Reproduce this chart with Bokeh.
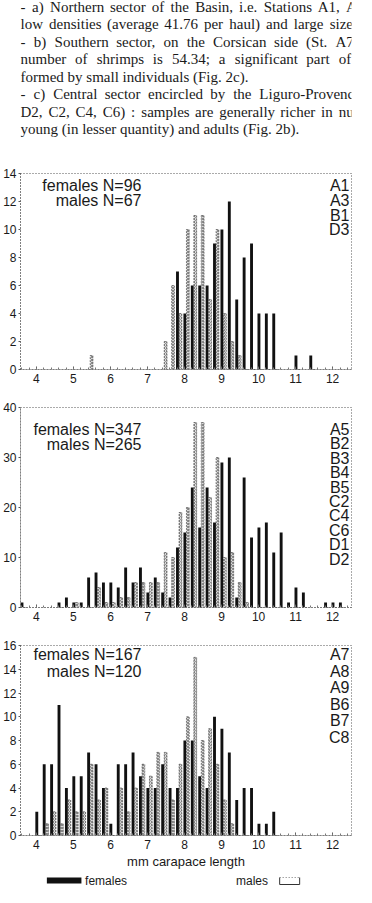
from bokeh.plotting import figure
from bokeh.models import Range1d, Label, SingleIntervalTicker
from bokeh.layouts import column
from bokeh.embed import file_html
from bokeh.resources import INLINE
from bokeh.core.properties import value

# ---------------- data ----------------
text_lines = [
    "- a) Northern sector of the Basin, i.e. Stations A1, A",
    "low densities (average 41.76 per haul) and large size",
    "- b) Southern sector, on the Corsican side (St. A7",
    "number of shrimps is 54.34; a significant part of",
    "formed by small individuals (Fig. 2c).",
    "- c) Central sector encircled by the Liguro-Provenc",
    "D2, C2, C4, C6) : samples are generally richer in nu",
    "young (in lesser quantity) and adults (Fig. 2b).",
]
justified = [True, True, True, True, False, True, True, False]

# panel a (stations A1 A3 B1 D3)
bins_a = [5.4, 7.4, 7.6, 7.8, 8.0, 8.2, 8.4, 8.6, 8.8, 9.0, 9.2, 9.4, 9.6, 9.8, 10.0, 10.2, 10.4, 11.0, 11.4]
fem_a = [0, 0, 0, 7, 4, 6, 6, 6, 9, 10, 12, 5, 8, 9, 4, 4, 4, 1, 1]
male_a = [1, 2, 6, 4, 10, 11, 11, 5, 10, 4, 2, 1, 0, 0, 0, 0, 0, 0, 0]
stations_a = ["A1", "A3", "B1", "D3"]

# panel b (stations A5 ... D2)
bins_b = [3.6, 4.6, 4.8, 5.0, 5.2, 5.4, 5.6, 5.8, 6.0, 6.2, 6.4, 6.6, 6.8, 7.0, 7.2, 7.4, 7.6, 7.8,
          8.0, 8.2, 8.4, 8.6, 8.8, 9.0, 9.2, 9.4, 9.6, 9.8, 10.0, 10.2, 10.4, 10.6, 10.8, 11.0, 11.2,
          11.8, 12.0, 12.2]
fem_b = [1, 1, 2, 1, 1, 6, 7, 5, 5, 4, 8, 5, 8, 3, 6, 3, 2, 12,
         15, 24, 16, 24, 17, 29, 30, 2, 26, 14, 16, 17, 11, 15, 1, 4, 3,
         1, 1, 1]
male_b = [0, 0, 0, 1, 0, 0, 4, 1, 1, 2, 2, 5, 5, 5, 5, 11, 10, 19,
          20, 37, 37, 22, 30, 10, 11, 5, 1, 0, 0, 0, 0, 0, 0, 0, 0,
          0, 0, 0]
stations_b = ["A5", "B2", "B3", "B4", "B5", "C2", "C4", "C6", "D1", "D2"]

# panel c (stations A7 A8 A9 B6 B7 C8)
bins_c = [4.0, 4.2, 4.4, 4.6, 4.8, 5.0, 5.2, 5.4, 5.6, 5.8, 6.0, 6.2, 6.4, 6.6, 6.8, 7.0, 7.2,
          7.4, 7.6, 7.8, 8.0, 8.2, 8.4, 8.6, 8.8, 9.0, 9.2, 9.4, 9.6, 9.8, 10.0, 10.2, 10.4]
fem_c = [2, 6, 6, 11, 4, 5, 5, 7, 6, 4, 1, 6, 6, 7, 5, 4, 4,
         6, 4, 4, 8, 8, 5, 4, 10, 9, 7, 3, 4, 4, 1, 1, 2]
male_c = [0, 1, 2, 1, 3, 2, 2, 6, 3, 4, 0, 4, 2, 4, 6, 5, 7,
          7, 3, 6, 10, 15, 8, 9, 6, 3, 1, 0, 0, 0, 0, 0, 0]
stations_c = ["A7", "A8", "A9", "B6", "B7", "C8"]

X0, X1 = 3.57, 12.51
W = 364
SANS = "Liberation Sans"
SERIF = "Liberation Serif"
INK = "#1a1a1a"

# Times / Liberation Serif advance widths (1/1000 em), used only to spread justified lines
TW = {" ": 250, "(": 333, ")": 333, ",": 250, "-": 333, ".": 250, ":": 278, ";": 278,
      "A": 722, "B": 667, "C": 667, "D": 722, "F": 556, "L": 611, "N": 722, "P": 556, "S": 556,
      "a": 444, "b": 500, "c": 444, "d": 500, "e": 444, "f": 333, "g": 500, "h": 500, "i": 278,
      "j": 278, "k": 500, "l": 278, "m": 778, "n": 500, "o": 500, "p": 500, "q": 500, "r": 333,
      "s": 389, "t": 278, "u": 500, "v": 500, "w": 722, "x": 500, "y": 500, "z": 444}
FS = 15.0
KW = 1.08  # rendered width factor


def tw(s):
    return KW * sum(TW.get(ch, 500) for ch in s) * FS / 1000.0


# ---------------- text block ----------------
tp = figure(width=W, height=142, x_range=Range1d(0, W), y_range=Range1d(142, 0),
            min_border=0, toolbar_location=None, output_backend="svg",
            x_axis_type=None, y_axis_type=None, outline_line_color=None)
tp.grid.visible = False
wx, wy, wt = [], [], []
LAST_LEFT = 358.0  # left edge of the clipped last glyph of a justified line
for i, (ln, just) in enumerate(zip(text_lines, justified)):
    y = 6 + 17.5 * i
    if not just:
        wx.append(0.0)
        wy.append(y)
        wt.append(ln)
        continue
    words = ln.split(" ")
    extra = max(0.0, (LAST_LEFT - tw(ln[:-1])) / (len(words) - 1))
    x = 0.0
    for w in words:
        wx.append(x)
        wy.append(y)
        wt.append(w)
        x += tw(w + " ") + extra
tp.text(x=wx, y=wy, text=wt, text_font=value(SERIF), text_font_size=f"{FS}px",
        text_color=INK, text_baseline="middle")


def panel(bins, fem, male, ymax, ystep, height, top, bottom, fem_txt, male_txt,
          stations, letter, txt_y, txt_gap, st_y, st_gap, xlabel=None):
    p = figure(width=W, height=height, x_range=Range1d(X0, X1), y_range=Range1d(0, ymax),
               min_border_left=18, min_border_right=13, min_border_top=top, min_border_bottom=bottom,
               toolbar_location=None, output_backend="svg")
    p.grid.visible = False
    p.outline_line_color = "#555"
    p.outline_line_dash = "1 2"
    p.outline_line_width = 1

    p.vbar(x=[b + 0.01 for b in bins], top=fem, width=0.078, fill_color="#111", line_color=None)
    p.vbar(x=[b + 0.09 for b in bins], top=male, width=0.075, fill_color="#dadada",
           line_color="#444", line_width=0.6, line_dash="2 1", hatch_pattern="diagonal_cross",
           hatch_color="#555", hatch_scale=3, hatch_weight=0.6)

    p.xaxis.ticker = SingleIntervalTicker(interval=1, num_minor_ticks=5)
    p.yaxis.ticker = SingleIntervalTicker(interval=ystep, num_minor_ticks=0)
    for ax in (p.xaxis, p.yaxis):
        ax.axis_line_color = "#555"
        ax.axis_line_dash = "1 2"
        ax.major_tick_line_color = "#555"
        ax.minor_tick_line_color = "#777"
        ax.major_label_text_font = SANS
        ax.major_label_text_font_size = "12px"
        ax.major_label_text_color = INK
    p.xaxis.major_tick_in = 3
    p.xaxis.major_tick_out = 0
    p.xaxis.minor_tick_in = 2
    p.xaxis.minor_tick_out = 0
    p.xaxis.major_label_standoff = 4
    p.yaxis.major_tick_in = 0
    p.yaxis.major_tick_out = 2
    p.yaxis.minor_tick_line_color = None
    p.yaxis.major_label_standoff = 2
    if xlabel:
        p.xaxis.axis_label = xlabel
        p.xaxis.axis_label_text_font = SANS
        p.xaxis.axis_label_text_font_style = "normal"
        p.xaxis.axis_label_text_font_size = "13px"
        p.xaxis.axis_label_text_color = INK
        p.xaxis.axis_label_standoff = 2

    p.add_layout(Label(x=X0, y=ymax, x_offset=6, y_offset=12, text="N", text_font=SANS,
                       text_font_size="11px", text_color=INK, text_align="center",
                       text_baseline="middle"))
    p.add_layout(Label(x=X0, y=ymax, x_offset=121, y_offset=-txt_y, text=fem_txt, text_font=SANS,
                       text_font_size="16px", text_color=INK, text_align="right",
                       text_baseline="middle"))
    p.add_layout(Label(x=X0, y=ymax, x_offset=121, y_offset=-txt_y - txt_gap, text=male_txt,
                       text_font=SANS, text_font_size="16px", text_color=INK, text_align="right",
                       text_baseline="middle"))
    for i, s in enumerate(stations):
        p.add_layout(Label(x=X1, y=ymax, x_offset=-2, y_offset=-st_y - st_gap * i, text=s,
                           text_font=SANS, text_font_size="16px", text_color=INK,
                           text_align="right", text_baseline="middle"))
    p.add_layout(Label(x=X1, y=0, x_offset=3, y_offset=-1, text=letter, text_font=SANS,
                       text_font_size="19px", text_color=INK, text_align="left",
                       text_baseline="alphabetic"))
    return p


pa = panel(bins_a, fem_a, male_a, 14, 2, 248, 31, 21, "females N=96", "males N=67",
           stations_a, "a", 12, 15, 12, 14.8)
pb = panel(bins_b, fem_b, male_b, 40, 10, 238, 17, 21, "females N=347", "males N=265",
           stations_b, "b", 22, 15, 22, 14.4)
pc = panel(bins_c, fem_c, male_c, 16, 2, 245, 17, 38, "females N=167", "males N=120",
           stations_c, "c", 9, 17, 9, 16.5, xlabel="mm carapace length")

# ---------------- legend row ----------------
pl = figure(width=W, height=14, x_range=Range1d(0, W), y_range=Range1d(0, 14),
            min_border=0, toolbar_location=None, output_backend="svg",
            x_axis_type=None, y_axis_type=None, outline_line_color=None)
pl.grid.visible = False
pl.quad(left=[29], right=[67], bottom=[4], top=[10], fill_color="#111", line_color=None)
pl.text(x=[71], y=[7], text=["females"], text_font=value(SANS), text_font_size="12px",
        text_color=INK, text_baseline="middle")
pl.text(x=[237], y=[7], text=["males"], text_font=value(SANS), text_font_size="12px",
        text_color=INK, text_baseline="middle")
pl.multi_line(xs=[[285, 285, 307, 307]], ys=[[10, 3, 3, 10]], line_color="#333", line_width=1)
pl.line(x=[285, 307], y=[10, 10], line_color="#777", line_dash="1 2", line_width=1)

layout = column(tp, pa, pb, pc, pl, spacing=0)
open("out.html", "w").write(file_html(layout, INLINE))
